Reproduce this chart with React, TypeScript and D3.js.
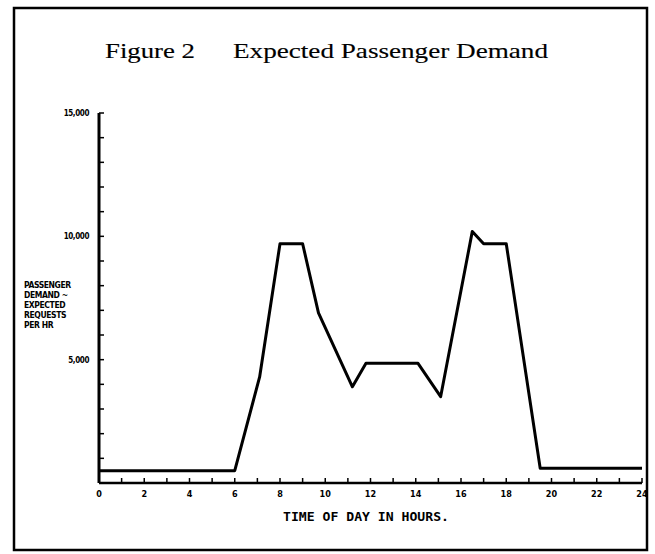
import React, { useEffect, useRef } from "react";
import * as d3 from "d3";

// hours of day and expected requests per hour
const hours = [0, 6, 7.1, 8, 9, 9.7, 11.2, 11.8, 14.1, 15.1, 16.5, 17, 18, 19.5, 24];
const demand = [500, 500, 4300, 9700, 9700, 6900, 3900, 4850, 4850, 3500, 10200, 9700, 9700, 600, 600];

const xTickLabels = [0, 2, 4, 6, 8, 10, 12, 14, 16, 18, 20, 22, 24];
const yTickLabels = ["5,000", "10,000", "15,000"];
const yTickValues = [5000, 10000, 15000];
const yLabelLines = ["PASSENGER", "DEMAND ~", "EXPECTED", "REQUESTS", "PER HR"];

function App() {
  const ref = useRef<SVGSVGElement>(null);

  useEffect(() => {
    const width = 655;
    const height = 554;
    const svg = d3.select(ref.current);
    svg.selectAll("*").remove();
    svg.attr("width", width).attr("height", height);

    svg.append("rect").attr("width", width).attr("height", height).attr("fill", "#fff");

    // outer frame of the scanned page
    svg
      .append("rect")
      .attr("x", 14)
      .attr("y", 8)
      .attr("width", 633)
      .attr("height", 542)
      .attr("fill", "none")
      .attr("stroke", "#000")
      .attr("stroke-width", 2.5);

    const x = d3.scaleLinear().domain([0, 24]).range([99, 642]);
    const y = d3.scaleLinear().domain([0, 15000]).range([483, 113]);

    // title
    const title = svg
      .append("g")
      .attr("font-family", "Liberation Serif, serif")
      .attr("font-size", 21)
      .attr("stroke", "#000")
      .attr("stroke-width", 0.15);
    title
      .append("text")
      .attr("x", 105)
      .attr("y", 58)
      .attr("textLength", 90)
      .attr("lengthAdjust", "spacingAndGlyphs")
      .text("Figure 2");
    title
      .append("text")
      .attr("x", 233)
      .attr("y", 58)
      .attr("textLength", 315)
      .attr("lengthAdjust", "spacingAndGlyphs")
      .text("Expected Passenger Demand");

    // axes
    const g = svg.append("g");
    g.append("line")
      .attr("x1", x(0)).attr("x2", x(0))
      .attr("y1", y(15000)).attr("y2", y(0))
      .attr("stroke", "#000").attr("stroke-width", 3);
    g.append("line")
      .attr("x1", x(0)).attr("x2", x(24))
      .attr("y1", y(0)).attr("y2", y(0))
      .attr("stroke", "#000").attr("stroke-width", 2.5);

    // minor ticks every hour / every 1000
    g.selectAll(".xt")
      .data(d3.range(1, 25))
      .enter()
      .append("line")
      .attr("x1", (d) => x(d)).attr("x2", (d) => x(d))
      .attr("y1", y(0)).attr("y2", y(0) - 5)
      .attr("stroke", "#000").attr("stroke-width", 1.5);
    g.selectAll(".yt")
      .data(d3.range(1000, 16000, 1000))
      .enter()
      .append("line")
      .attr("x1", x(0)).attr("x2", x(0) + 5)
      .attr("y1", (d) => y(d)).attr("y2", (d) => y(d))
      .attr("stroke", "#000").attr("stroke-width", 1.5);

    g.selectAll(".xl")
      .data(xTickLabels)
      .enter()
      .append("text")
      .attr("x", (d) => x(d))
      .attr("y", 497)
      .attr("text-anchor", "middle")
      .attr("font-family", "DejaVu Sans Condensed, DejaVu Sans, sans-serif")
      .attr("font-weight", "bold")
      .attr("font-size", 9)
      .text((d) => d);

    g.selectAll(".yl")
      .data(yTickValues)
      .enter()
      .append("text")
      .attr("x", 89)
      .attr("y", (d) => y(d) + 3)
      .attr("text-anchor", "end")
      .attr("font-family", "DejaVu Sans Condensed, DejaVu Sans, sans-serif")
      .attr("font-weight", "bold")
      .attr("font-size", 8)
      .attr("letter-spacing", -0.4)
      .text((d, i) => yTickLabels[i]);

    svg
      .append("g")
      .selectAll("text")
      .data(yLabelLines)
      .enter()
      .append("text")
      .attr("x", 24)
      .attr("y", (d, i) => 288 + i * 10)
      .attr("font-family", "DejaVu Sans Condensed, DejaVu Sans, sans-serif")
      .attr("font-weight", "bold")
      .attr("font-size", 8.5)
      .attr("letter-spacing", -0.4)
      .text((d) => d);

    svg
      .append("text")
      .attr("x", 283)
      .attr("y", 521)
      .attr("font-family", "DejaVu Sans Mono, monospace")
      .attr("font-weight", "bold")
      .attr("font-size", 13)
      .attr("textLength", 166)
      .attr("lengthAdjust", "spacingAndGlyphs")
      .text("TIME OF DAY IN HOURS.");

    // demand curve
    const line = d3
      .line<number>()
      .x((d, i) => x(hours[i]))
      .y((d) => y(d));
    svg
      .append("path")
      .datum(demand)
      .attr("d", line)
      .attr("fill", "none")
      .attr("stroke", "#000")
      .attr("stroke-width", 3)
      .attr("stroke-linejoin", "round");
  }, []);

  return <svg ref={ref} style={{ position: "absolute", left: 0, top: 0 }} />;
}

export default App;
